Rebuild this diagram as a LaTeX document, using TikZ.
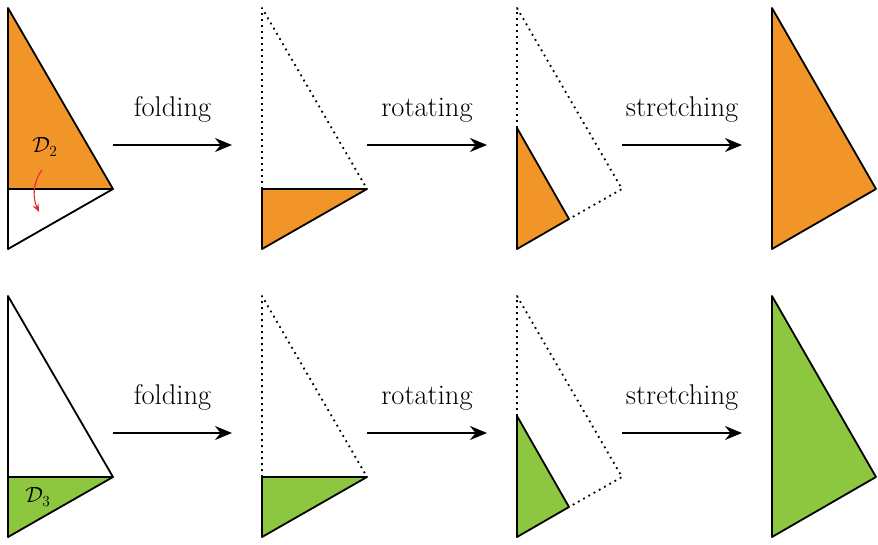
\RequirePackage{fix-cm}
\documentclass[tikz,border=0pt]{standalone}
\usepackage{fontspec}
\usetikzlibrary{arrows.meta}

\definecolor{foldorange}{RGB}{242,149,41}
\definecolor{foldgreen}{RGB}{141,198,63}
\definecolor{foldred}{RGB}{228,45,45}

\begin{document}
\begin{tikzpicture}[x=1pt, y=-1pt, line join=round]
        \tikzset{
            edge/.style={draw=black, line width=1.8pt},
            hidden/.style={draw=black, line width=1.8pt, dash pattern=on 1.8pt off 4.2pt},
            move/.style={-{Stealth[length=17pt, width=14pt]}, line width=1.8pt},
            movelabel/.style={above=18pt, font=\fontsize{28.5}{33}\selectfont},
            part/.style={font=\fontsize{22}{26}\selectfont, inner sep=0pt}
        }
        \useasboundingbox (0,0) rectangle (878,545);

        % top row: the upper part D2
        \coordinate (t1) at (8,8);
        \coordinate (f1) at (8,189);
        \coordinate (r1) at (113,189);
        \coordinate (b1) at (8,249);
        \fill[foldorange] (t1) -- (f1) -- (r1) -- cycle;
        \draw[edge] (t1) -- (b1) -- (r1) -- cycle;
        \draw[edge] (f1) -- (r1);
        \node[part] (d2) at (45,147) {$\mathcal{D}_2$};
        \coordinate (pullstart) at (42,170);
        \coordinate (pullend) at (39,212);
        \draw[foldred, line width=1.1pt, -{Stealth[length=8pt, width=6.5pt]}]
            (pullstart) .. controls (32,183) and (33,199) .. (pullend);

        \coordinate (t2) at (262,8);
        \coordinate (f2) at (262,189);
        \coordinate (r2) at (367,189);
        \coordinate (b2) at (262,249);
        \fill[foldorange] (f2) -- (r2) -- (b2) -- cycle;
        \draw[hidden] (f2) -- (t2) -- (r2);
        \draw[edge] (f2) -- (r2) -- (b2) -- cycle;

        \coordinate (t3) at (517,8);
        \coordinate (r3) at (622,189);
        \coordinate (b3) at (517,249);
        \coordinate (u3) at (517,128);
        \coordinate (k3) at (569,219);
        \fill[foldorange] (u3) -- (k3) -- (b3) -- cycle;
        \draw[hidden] (u3) -- (t3) -- (r3) -- (k3);
        \draw[edge] (u3) -- (k3) -- (b3) -- cycle;

        \coordinate (t4) at (772,8);
        \coordinate (r4) at (876,189);
        \coordinate (b4) at (772,249);
        \draw[edge, fill=foldorange] (t4) -- (r4) -- (b4) -- cycle;

        % arrows of the top row
        \coordinate (a1) at (113,145);
        \coordinate (a2) at (232,145);
        \coordinate (a3) at (367,145);
        \coordinate (a4) at (487,145);
        \coordinate (a5) at (622,145);
        \coordinate (a6) at (742,145);
        \draw[move] (a1) -- node[movelabel] (fold1) {folding} (a2);
        \draw[move] (a3) -- node[movelabel] (rot1) {rotating} (a4);
        \draw[move] (a5) -- node[movelabel] (str1) {stretching} (a6);

        % bottom row: the lower part D3
        \coordinate (t5) at (8,296);
        \coordinate (f5) at (8,477);
        \coordinate (r5) at (113,477);
        \coordinate (b5) at (8,537);
        \fill[foldgreen] (f5) -- (r5) -- (b5) -- cycle;
        \draw[edge] (t5) -- (b5) -- (r5) -- cycle;
        \draw[edge] (f5) -- (r5);
        \node[part] (d3) at (38,497) {$\mathcal{D}_3$};

        \coordinate (t6) at (262,296);
        \coordinate (f6) at (262,477);
        \coordinate (r6) at (367,477);
        \coordinate (b6) at (262,537);
        \fill[foldgreen] (f6) -- (r6) -- (b6) -- cycle;
        \draw[hidden] (f6) -- (t6) -- (r6);
        \draw[edge] (f6) -- (r6) -- (b6) -- cycle;

        \coordinate (t7) at (517,296);
        \coordinate (r7) at (622,477);
        \coordinate (b7) at (517,537);
        \coordinate (u7) at (517,416);
        \coordinate (k7) at (569,507);
        \fill[foldgreen] (u7) -- (k7) -- (b7) -- cycle;
        \draw[hidden] (u7) -- (t7) -- (r7) -- (k7);
        \draw[edge] (u7) -- (k7) -- (b7) -- cycle;

        \coordinate (t8) at (772,296);
        \coordinate (r8) at (876,477);
        \coordinate (b8) at (772,537);
        \draw[edge, fill=foldgreen] (t8) -- (r8) -- (b8) -- cycle;

        % arrows of the bottom row
        \coordinate (c1) at (113,433);
        \coordinate (c2) at (232,433);
        \coordinate (c3) at (367,433);
        \coordinate (c4) at (487,433);
        \coordinate (c5) at (622,433);
        \coordinate (c6) at (742,433);
        \draw[move] (c1) -- node[movelabel] (fold2) {folding} (c2);
        \draw[move] (c3) -- node[movelabel] (rot2) {rotating} (c4);
        \draw[move] (c5) -- node[movelabel] (str2) {stretching} (c6);
    \end{tikzpicture}
\end{document}
